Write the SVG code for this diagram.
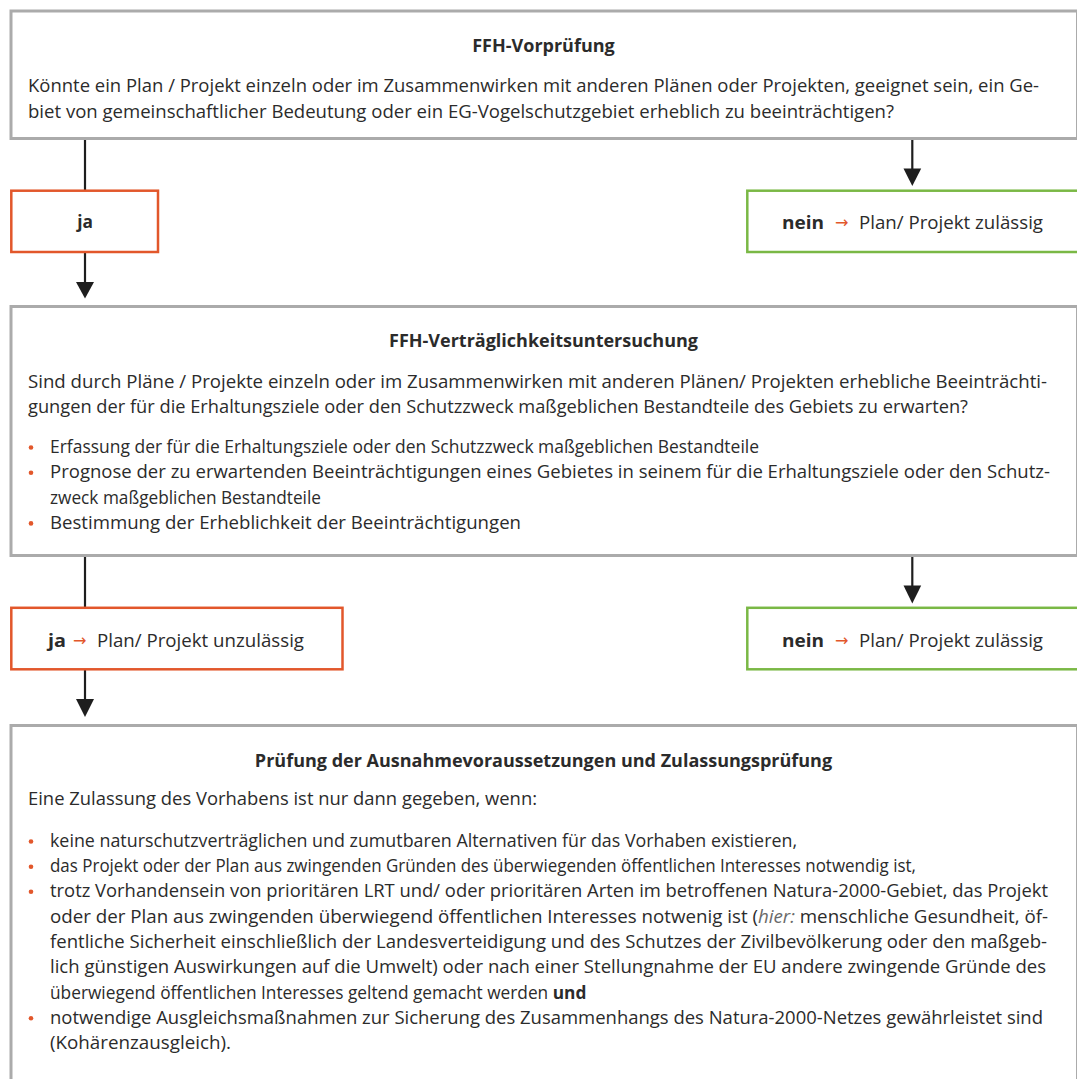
<svg xmlns="http://www.w3.org/2000/svg" width="1077" height="1079" viewBox="0 0 1077 1079">
<style>
.box{fill:#ffffff;stroke:#ababab;stroke-width:3}
.ja{fill:#ffffff;stroke:#e2572b;stroke-width:2.5}
.nein{fill:#ffffff;stroke:#7ab845;stroke-width:2.5}
.t{font-family:"Open Sans","Noto Sans",sans-serif;font-size:17.3px;fill:#2b2b2b}
.h{font-family:"Open Sans","Noto Sans",sans-serif;font-size:18px;font-weight:bold;fill:#2b2b2b;text-anchor:middle}
.bd{font-weight:bold}
.it{font-style:italic;fill:#6a6a6a}
.arr{font-family:"DejaVu Sans",sans-serif;font-size:16px;fill:#e2572b}
.dot{fill:#e2572b}
.line{stroke:#1e1e1e;stroke-width:2.2;fill:none}
.head{fill:#1e1e1e}
</style>
<rect width="1077" height="1079" fill="#ffffff"/>

<g id="connectors">
  <line class="line" x1="85" y1="140" x2="85" y2="190"/>
  <line class="line" x1="85" y1="253" x2="85" y2="284"/>
  <polygon class="head" points="76,282 94,282 85,298.5"/>
  <line class="line" x1="912.3" y1="140" x2="912.3" y2="170"/>
  <polygon class="head" points="903.5,168.5 921.2,168.5 912.3,186"/>
  <line class="line" x1="85" y1="557" x2="85" y2="607"/>
  <line class="line" x1="85" y1="670" x2="85" y2="701"/>
  <polygon class="head" points="76,699 94,699 85,717"/>
  <line class="line" x1="912.3" y1="557" x2="912.3" y2="587"/>
  <polygon class="head" points="903.5,585.5 921.2,585.5 912.3,603.5"/>
</g>

<g id="node-vorpruefung">
  <rect class="box" x="11" y="11" width="1066.5" height="127.5"/>
  <text class="h" x="543.5" y="52">FFH-Vorprüfung</text>
  <text class="t" x="28" y="92" textLength="1011" lengthAdjust="spacingAndGlyphs">Könnte ein Plan / Projekt einzeln oder im Zusammenwirken mit anderen Plänen oder Projekten, geeignet sein, ein Ge-</text>
  <text class="t" x="28" y="117.5" textLength="866" lengthAdjust="spacingAndGlyphs">biet von gemeinschaftlicher Bedeutung oder ein EG-Vogelschutzgebiet erheblich zu beeinträchtigen?</text>
</g>

<g id="node-ja1">
  <rect class="ja" x="11.3" y="190.7" width="146.7" height="61.3"/>
  <text class="t bd" x="85" y="228" text-anchor="middle">ja</text>
</g>

<g id="node-nein1">
  <rect class="nein" x="747.3" y="190.7" width="340" height="61.3"/>
  <text class="t bd" x="782" y="228.5" textLength="42" lengthAdjust="spacingAndGlyphs">nein</text>
  <text class="arr" x="835" y="227.5" textLength="13.5" lengthAdjust="spacingAndGlyphs">→</text>
  <text class="t" x="859" y="228.5" textLength="184" lengthAdjust="spacingAndGlyphs">Plan/ Projekt zulässig</text>
</g>

<g id="node-vertraeglichkeit">
  <rect class="box" x="11" y="306.5" width="1066.5" height="249"/>
  <text class="h" x="543.5" y="347">FFH-Verträglichkeitsuntersuchung</text>
  <text class="t" x="28" y="388" textLength="1019" lengthAdjust="spacingAndGlyphs">Sind durch Pläne / Projekte einzeln oder im Zusammenwirken mit anderen Plänen/ Projekten erhebliche Beeinträchti-</text>
  <text class="t" x="28" y="413" textLength="940" lengthAdjust="spacingAndGlyphs">gungen der für die Erhaltungsziele oder den Schutzzweck maßgeblichen Bestandteile des Gebiets zu erwarten?</text>
  <circle class="dot" cx="31" cy="447.5" r="2.3"/>
  <text class="t" x="50" y="453" textLength="709" lengthAdjust="spacingAndGlyphs">Erfassung der für die Erhaltungsziele oder den Schutzzweck maßgeblichen Bestandteile</text>
  <circle class="dot" cx="31" cy="472.8" r="2.3"/>
  <text class="t" x="50" y="478.3" textLength="1000" lengthAdjust="spacingAndGlyphs">Prognose der zu erwartenden Beeinträchtigungen eines Gebietes in seinem für die Erhaltungsziele oder den Schutz-</text>
  <text class="t" x="50" y="503.6" textLength="271" lengthAdjust="spacingAndGlyphs">zweck maßgeblichen Bestandteile</text>
  <circle class="dot" cx="31" cy="523.4" r="2.3"/>
  <text class="t" x="50" y="528.9" textLength="471" lengthAdjust="spacingAndGlyphs">Bestimmung der Erheblichkeit der Beeinträchtigungen</text>
</g>

<g id="node-ja2">
  <rect class="ja" x="11.3" y="607.8" width="331.2" height="61.5"/>
  <text class="t bd" x="48" y="647" textLength="18" lengthAdjust="spacingAndGlyphs">ja</text>
  <text class="arr" x="73" y="646" textLength="13.5" lengthAdjust="spacingAndGlyphs">→</text>
  <text class="t" x="97" y="647" textLength="207" lengthAdjust="spacingAndGlyphs">Plan/ Projekt unzulässig</text>
</g>

<g id="node-nein2">
  <rect class="nein" x="747.3" y="607.8" width="340" height="61.5"/>
  <text class="t bd" x="782" y="647" textLength="42" lengthAdjust="spacingAndGlyphs">nein</text>
  <text class="arr" x="835" y="646" textLength="13.5" lengthAdjust="spacingAndGlyphs">→</text>
  <text class="t" x="859" y="647" textLength="184" lengthAdjust="spacingAndGlyphs">Plan/ Projekt zulässig</text>
</g>

<g id="node-ausnahme">
  <rect class="box" x="11" y="725.5" width="1066.5" height="370"/>
  <text class="h" x="543.5" y="767">Prüfung der Ausnahmevoraussetzungen und Zulassungsprüfung</text>
  <text class="t" x="28" y="805" textLength="509" lengthAdjust="spacingAndGlyphs">Eine Zulassung des Vorhabens ist nur dann gegeben, wenn:</text>
  <circle class="dot" cx="31" cy="841.5" r="2.3"/>
  <text class="t" x="50" y="847" textLength="747" lengthAdjust="spacingAndGlyphs">keine naturschutzverträglichen und zumutbaren Alternativen für das Vorhaben existieren,</text>
  <circle class="dot" cx="31" cy="866.8" r="2.3"/>
  <text class="t" x="50" y="872.3" textLength="866" lengthAdjust="spacingAndGlyphs">das Projekt oder der Plan aus zwingenden Gründen des überwiegenden öffentlichen Interesses notwendig ist,</text>
  <circle class="dot" cx="31" cy="891.8" r="2.3"/>
  <text class="t" x="50" y="897.3" textLength="998" lengthAdjust="spacingAndGlyphs">trotz Vorhandensein von prioritären LRT und/ oder prioritären Arten im betroffenen Natura-2000-Gebiet, das Projekt</text>
  <text class="t" x="50" y="922.6" textLength="998" lengthAdjust="spacingAndGlyphs">oder der Plan aus zwingenden überwiegend öffentlichen Interesses notwenig ist (<tspan class="it">hier:</tspan> menschliche Gesundheit, öf-</text>
  <text class="t" x="50" y="947.9" textLength="997" lengthAdjust="spacingAndGlyphs">fentliche Sicherheit einschließlich der Landesverteidigung und des Schutzes der Zivilbevölkerung oder den maßgeb-</text>
  <text class="t" x="50" y="973.2" textLength="996" lengthAdjust="spacingAndGlyphs">lich günstigen Auswirkungen auf die Umwelt) oder nach einer Stellungnahme der EU andere zwingende Gründe des</text>
  <text class="t" x="50" y="998.5">überwiegend öffentlichen Interesses geltend gemacht werden <tspan class="bd">und</tspan></text>
  <circle class="dot" cx="31" cy="1018.3" r="2.3"/>
  <text class="t" x="50" y="1023.8" textLength="993" lengthAdjust="spacingAndGlyphs">notwendige Ausgleichsmaßnahmen zur Sicherung des Zusammenhangs des Natura-2000-Netzes gewährleistet sind</text>
  <text class="t" x="50" y="1049.1" textLength="181" lengthAdjust="spacingAndGlyphs">(Kohärenzausgleich).</text>
</g>
</svg>
